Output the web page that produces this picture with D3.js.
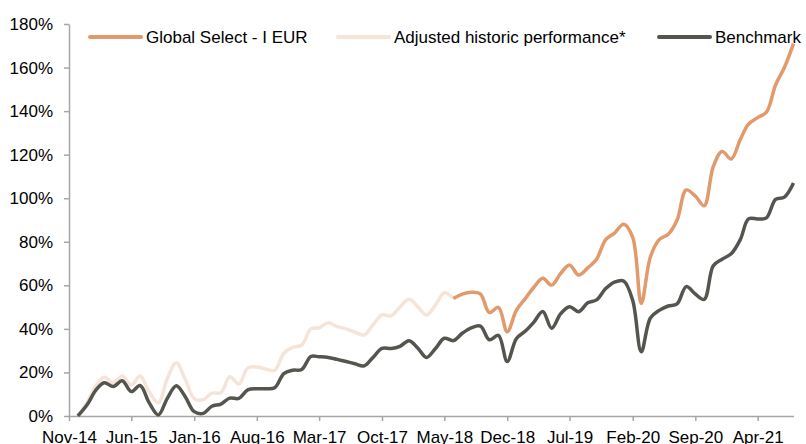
<!DOCTYPE html>
<html lang="en">
<head>
<meta charset="utf-8">
<script src="https://d3js.org/d3.v7.min.js"></script>
<style>
  body { margin: 0; background: #fff; }
  text { font-family: "Liberation Sans", Arial, sans-serif; fill: #000; }
</style>
</head>
<body>
<div id="chart"></div>
<script>
// month-end values, first point Dec-14, monthly
const firstMonth = "Dec-14";
const benchmark = [0, 5, 12, 15.3, 13.5, 16.2, 11.2, 14, 6, 0.5, 8, 13.9, 9, 2, 1.2, 4.5, 5.5, 8.2, 8.1, 12,
  12.5, 12.5, 13, 19.5, 21, 21.4, 27.3, 27.2, 26.9, 26, 25, 24, 23, 27, 31, 31, 32, 34.6, 31, 26.9,
  31, 35.7, 34.6, 38, 40.5, 41.3, 35, 37, 25, 35.5, 39, 43, 48, 40.3, 47, 50.2, 47.9, 52, 53.3, 58.5,
  61.5, 62, 53, 29.5, 45, 48.5, 50.5, 51.5, 59.4, 56, 53.5, 69, 72, 74.5, 81, 90.5, 90.5, 91, 99.5, 100.5, 107];
// adjusted historic performance, Dec-14 .. Jun-18
const adjusted = [0, 6, 14, 17.8, 15.3, 18.4, 14.2, 18.4, 11, 6.1, 17, 24.5, 17, 8, 7.5, 10.5, 10.7, 18, 14.7, 22,
  22.5, 21.5, 21, 28.8, 31.5, 32.6, 40, 40.5, 42.8, 41, 40, 38.5, 37.2, 42, 46.4, 46, 50, 53.6, 50, 46.4,
  51, 56.6, 54];
// Global Select - I EUR, Jun-18 .. Aug-21
const fundStart = "Jun-18";
const fund = [54, 56, 56.8, 56, 47.5, 49.9, 38.7, 48.5, 54, 59, 63.2, 60.1, 65.5, 69.3, 64.7, 68, 72, 81, 84, 88.1,
  82, 51.7, 73, 81, 83.5, 90, 103.8, 101, 96.5, 114.5, 121.5, 118, 127, 134, 137, 139.5, 152, 160, 171];
const tickLabels = ["Nov-14", "Jun-15", "Jan-16", "Aug-16", "Mar-17", "Oct-17", "May-18", "Dec-18",
  "Jul-19", "Feb-20", "Sep-20", "Apr-21"];
const yTicks = [0, 20, 40, 60, 80, 100, 120, 140, 160, 180];
const seriesNames = ["Global Select - I EUR", "Adjusted historic performance*", "Benchmark"];

const W = 806, H = 444;
const parse = d3.timeParse("%b-%y");
const svg = d3.select("#chart").append("svg").attr("width", W).attr("height", H);

const x = d3.scaleTime()
  .domain([parse("Nov-14"), d3.timeMonth.offset(parse(firstMonth), benchmark.length - 1)])
  .range([69, 793.5]);
const y = d3.scaleLinear().domain([0, 180]).range([416, 24]);

function months(start, n) {
  return d3.range(n).map(i => d3.timeMonth.offset(parse(start), i));
}
const benchDates = months(firstMonth, benchmark.length);
const adjDates = months(firstMonth, adjusted.length);
const fundDates = months(fundStart, fund.length);

const axisColor = "#A6A6A6";

// x axis
const gx = svg.append("g").attr("transform", "translate(0,416)")
  .call(d3.axisBottom(x).tickValues(tickLabels.map(parse)).tickFormat(d3.timeFormat("%b-%y"))
    .tickSizeInner(5).tickSizeOuter(0).tickPadding(10));
gx.select(".domain").attr("stroke", axisColor).attr("stroke-width", 1.5);
gx.selectAll(".tick line").attr("stroke", axisColor).attr("stroke-width", 1.5);
gx.selectAll(".tick text").attr("font-size", 17).attr("fill", "#000");

// y axis
const gy = svg.append("g").attr("transform", "translate(69,0)")
  .call(d3.axisLeft(y).tickValues(yTicks).tickFormat(d => d + "%")
    .tickSizeInner(5).tickSizeOuter(0).tickPadding(11));
gy.select(".domain").attr("stroke", axisColor).attr("stroke-width", 1.5);
gy.selectAll(".tick line").attr("stroke", axisColor).attr("stroke-width", 1.5);
gy.selectAll(".tick text").attr("font-size", 17).attr("fill", "#000");
svg.selectAll(".tick text").attr("font-family", "'Liberation Sans', Arial, sans-serif");

const line = d3.line().x(d => x(d[0])).y(d => y(d[1])).curve(d3.curveCatmullRom);
const colors = ["#E2996B", "#F5E4D8", "#55554F"];

svg.append("path").datum(d3.zip(adjDates, adjusted))
  .attr("d", line).attr("fill", "none").attr("stroke", colors[1]).attr("stroke-width", 3.5)
  .attr("stroke-linejoin", "round");
svg.append("path").datum(d3.zip(fundDates, fund))
  .attr("d", line).attr("fill", "none").attr("stroke", colors[0]).attr("stroke-width", 3.5)
  .attr("stroke-linejoin", "round");
svg.append("path").datum(d3.zip(benchDates, benchmark))
  .attr("d", line).attr("fill", "none").attr("stroke", colors[2]).attr("stroke-width", 3.5)
  .attr("stroke-linejoin", "round");

// legend
const legendX = [90, 338, 659];
const leg = svg.append("g");
seriesNames.forEach((name, i) => {
  leg.append("line").attr("x1", legendX[i]).attr("x2", legendX[i] + 51)
    .attr("y1", 37).attr("y2", 37).attr("stroke", colors[i]).attr("stroke-width", 4)
    .attr("stroke-linecap", "round");
  leg.append("text").attr("x", legendX[i] + 56).attr("y", 43)
    .attr("font-size", 17).text(name);
});
</script>
</body>
</html>
